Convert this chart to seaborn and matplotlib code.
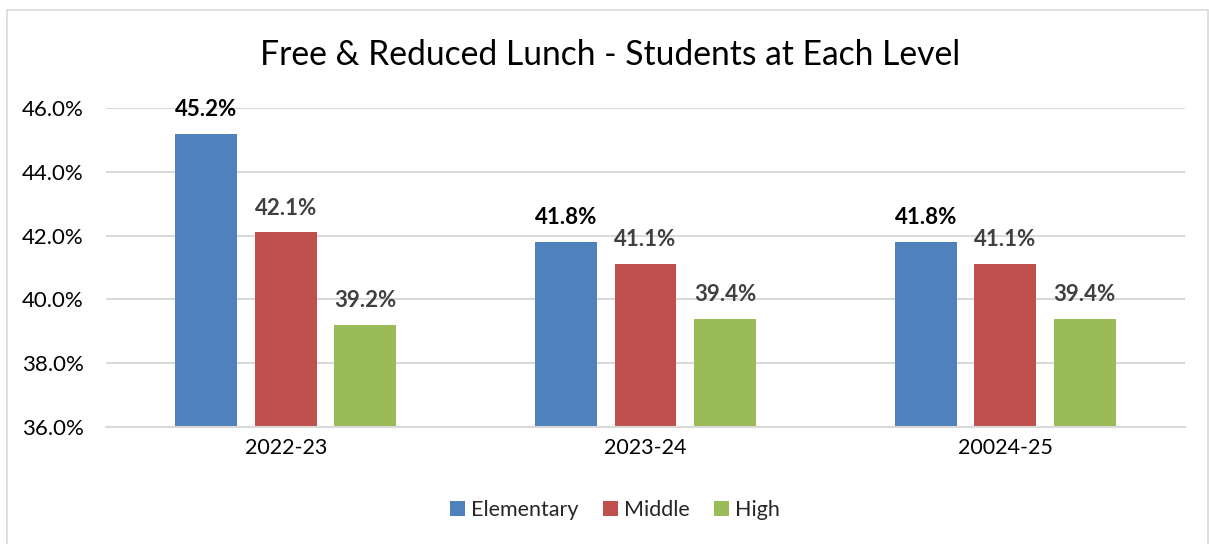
import matplotlib
matplotlib.use("Agg")
import matplotlib.pyplot as plt
from matplotlib.patches import Rectangle
from matplotlib.ticker import FuncFormatter
import seaborn as sns
import pandas as pd

years = ["2022-23", "2023-24", "20024-25"]
levels = ["Elementary", "Middle", "High"]
elementary = [45.2, 41.8, 41.8]
middle = [42.1, 41.1, 41.1]
high = [39.2, 39.4, 39.4]
colors = ["#4F81BD", "#C0504D", "#9BBB59"]
label_colors = ["#000000", "#404040", "#404040"]

rows = []
for lvl, vals in zip(levels, [elementary, middle, high]):
    for y, v in zip(years, vals):
        rows.append({"Year": y, "Level": lvl, "Value": v})
df = pd.DataFrame(rows)

sns.set_theme(style="white")
plt.rcParams["font.family"] = ["Lato", "DejaVu Sans"]

fig = plt.figure(figsize=(12.09, 5.44), dpi=100)
ax = fig.add_axes([106/1209, 1-427/544, (1185-106)/1209, (427-108)/544])

sns.barplot(data=df, x="Year", y="Value", hue="Level", order=years, hue_order=levels,
            palette=colors, width=0.663, gap=0.22, ax=ax, legend=True, saturation=1,
            errorbar=None, linewidth=0)

ax.set_ylim(36, 46)
ax.set_yticks([36, 38, 40, 42, 44, 46])
ax.yaxis.set_major_formatter(FuncFormatter(lambda v, p: f"{v:.1f}%"))
ax.grid(axis="y", color="#D9D9D9", linewidth=1.5)
ax.set_axisbelow(True)
for s in ["top", "right", "left"]:
    ax.spines[s].set_visible(False)
ax.spines["bottom"].set_color("#D9D9D9")
ax.spines["bottom"].set_linewidth(1.5)
ax.tick_params(axis="x", length=0, labelsize=15.5, colors="#000000", pad=8)
ax.tick_params(axis="y", length=0, labelsize=16, colors="#000000", pad=16)
ax.set_xlabel("")
ax.set_ylabel("")

for cont, lc in zip(ax.containers, label_colors):
    ax.bar_label(cont, labels=[f"{v:.1f}%" for v in cont.datavalues], padding=10,
                 fontsize=16, fontweight="bold", color=lc)

ax.legend(loc="center", bbox_to_anchor=(615/1209, (544-510)/544), bbox_transform=fig.transFigure,
          ncol=3, frameon=False, fontsize=15.5, handlelength=0.7, handleheight=0.7,
          handletextpad=0.3, columnspacing=1.1)

fig.text(610/1209, 1-55/544, "Free & Reduced Lunch - Students at Each Level", ha="center",
         va="center", fontsize=24.2, color="#000000")

fig.patches.append(Rectangle((7/1209, -0.1), (1208-7)/1209, 1.1-10/544, transform=fig.transFigure,
                             fill=False, edgecolor="#D9D9D9", linewidth=1.2))

fig.savefig("out.png", dpi=100)
